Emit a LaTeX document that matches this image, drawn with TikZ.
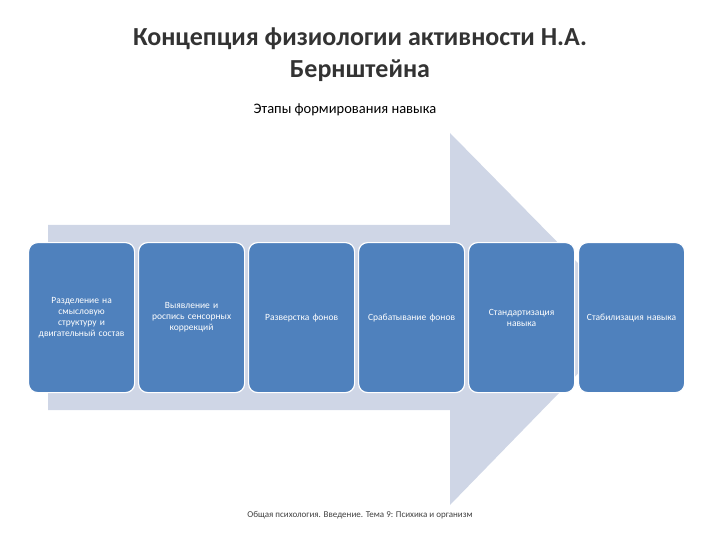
\documentclass[tikz,border=0pt]{standalone}
\usepackage{fontspec}
\setmainfont{Carlito}
\begin{document}
\begin{tikzpicture}[x=1pt,y=-1pt,
  stg/.style={draw=white,line width=1.2pt,fill=boxblue,rounded corners=9pt,minimum width=106pt,minimum height=150pt,text width=90pt,align=center,text=white,font=\fontsize{9.5}{11}\selectfont,anchor=north west}]
\definecolor{boxblue}{HTML}{4F81BD}
\definecolor{arrowc}{HTML}{CFD6E6}
\useasboundingbox (0,0) rectangle (720,540);
\node[font=\bfseries\fontsize{26}{32}\selectfont,text=black!80,align=center] (t) at (360,55) {Концепция физиологии активности Н.А.\\Бернштейна};
\node[font=\fontsize{14.5}{17}\selectfont] (s) at (345,110) {Этапы формирования навыка};
\fill[arrowc] (48,225) -- (450,225) -- (450,133) -- (632,318) -- (450,505) -- (450,410) -- (48,410) -- cycle;
\node[stg] (b1) at (28,242) {Разделение на смысловую структуру и двигательный состав};
\node[stg] (b2) at (138,242) {Выявление и роспись сенсорных коррекций};
\node[stg] (b3) at (248,242) {Разверстка фонов};
\node[stg] (b4) at (358,242) {Срабатывание фонов};
\node[stg] (b5) at (468,242) {Стандартизация навыка};
\node[stg] (b6) at (578,242) {Стабилизация навыка};
\node[font=\fontsize{9}{11}\selectfont,text=black!75] (f) at (360,515) {Общая психология. Введение. Тема 9: Психика и организм};
\end{tikzpicture}
\end{document}
